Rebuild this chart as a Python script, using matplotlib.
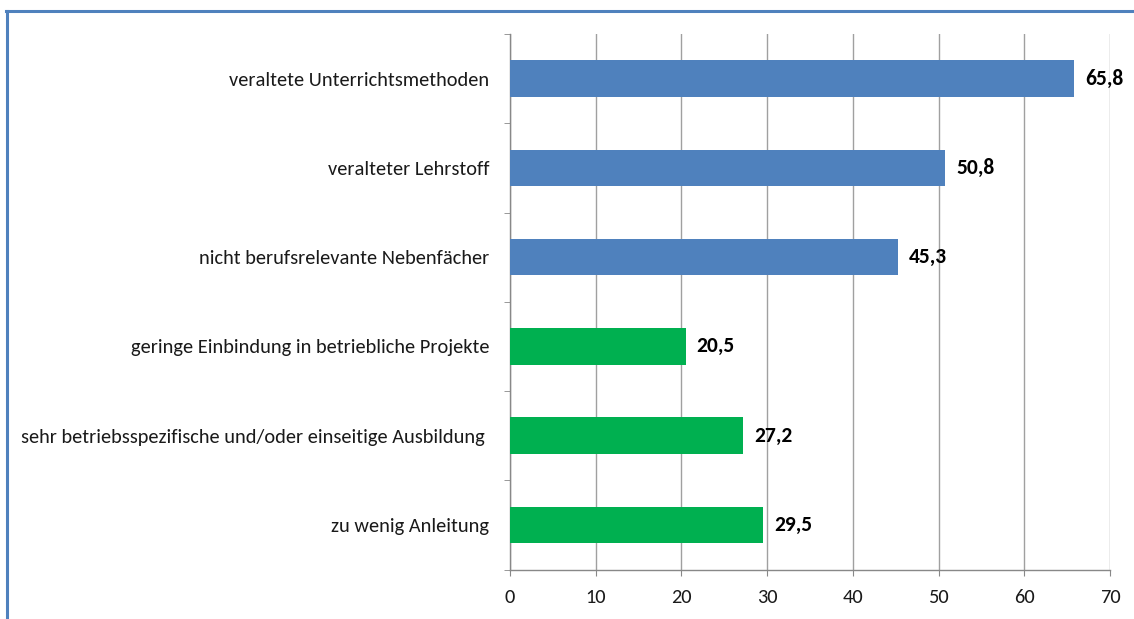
#!/usr/bin/env python3
"""Horizontal bar chart: Gründe (Anteile in %)."""

import matplotlib
matplotlib.use("Agg")
import matplotlib.pyplot as plt
from matplotlib.lines import Line2D
import numpy as np

categories = [
    "veraltete Unterrichtsmethoden",
    "veralteter Lehrstoff",
    "nicht berufsrelevante Nebenfächer",
    "geringe Einbindung in betriebliche Projekte",
    "sehr betriebsspezifische und/oder einseitige Ausbildung ",
    "zu wenig Anleitung",
]
values = [65.8, 50.8, 45.3, 20.5, 27.2, 29.5]
groups = ["schule", "schule", "schule", "betrieb", "betrieb", "betrieb"]
x_ticks = [0, 10, 20, 30, 40, 50, 60, 70]

colors = {"schule": "#4F81BD", "betrieb": "#00B050"}
text_col = "#1a1a1a"

# Carlito has the same metrics as Calibri used in the original
plt.rcParams["font.family"] = ["Carlito", "DejaVu Sans"]

fig = plt.figure(figsize=(11.34, 6.19), dpi=100)
ax = fig.add_axes([510 / 1134, 1 - 569.5 / 619, 600 / 1134, (569.5 - 34) / 619])

y = np.arange(len(categories))
ax.barh(y, values, height=0.41, color=[colors[g] for g in groups], zorder=3)

for yi, v in zip(y, values):
    ax.text(v + 1.28, yi, f"{v:.1f}".replace(".", ","), va="center", ha="left",
            fontsize=15.5, fontweight="bold", color="black", zorder=4)

ax.set_ylim(len(categories) - 0.5, -0.5)
ax.set_xlim(0, 70)
ax.set_xticks(x_ticks)
ax.set_xticklabels([str(t) for t in x_ticks], fontsize=14.7, color=text_col)

ax.set_yticks(y)
ax.set_yticklabels(categories, fontsize=14.7, color=text_col)
ax.tick_params(axis="y", length=0, pad=15)
ax.set_yticks(np.arange(len(categories) + 1) - 0.5, minor=True)
ax.tick_params(axis="y", which="minor", length=4.5, color="#888888", direction="out")
ax.tick_params(axis="x", length=4.5, color="#888888", direction="out", pad=9.5)

ax.grid(axis="x", color="#A0A0A0", linewidth=1.0, zorder=0)
for s in ["top", "right"]:
    ax.spines[s].set_visible(False)
for s in ["left", "bottom"]:
    ax.spines[s].set_color("#888888")
    ax.spines[s].set_linewidth(1.0)

# frame of the original chart area (only top and left edges are visible)
fig.add_artist(Line2D([0.0055, 1.0], [0.983, 0.983], transform=fig.transFigure,
                      color="#4F81BD", linewidth=2.2))
fig.add_artist(Line2D([0.0066, 0.0066], [0.0, 0.983], transform=fig.transFigure,
                      color="#4F81BD", linewidth=2.2))

fig.savefig("out.png", dpi=100)
